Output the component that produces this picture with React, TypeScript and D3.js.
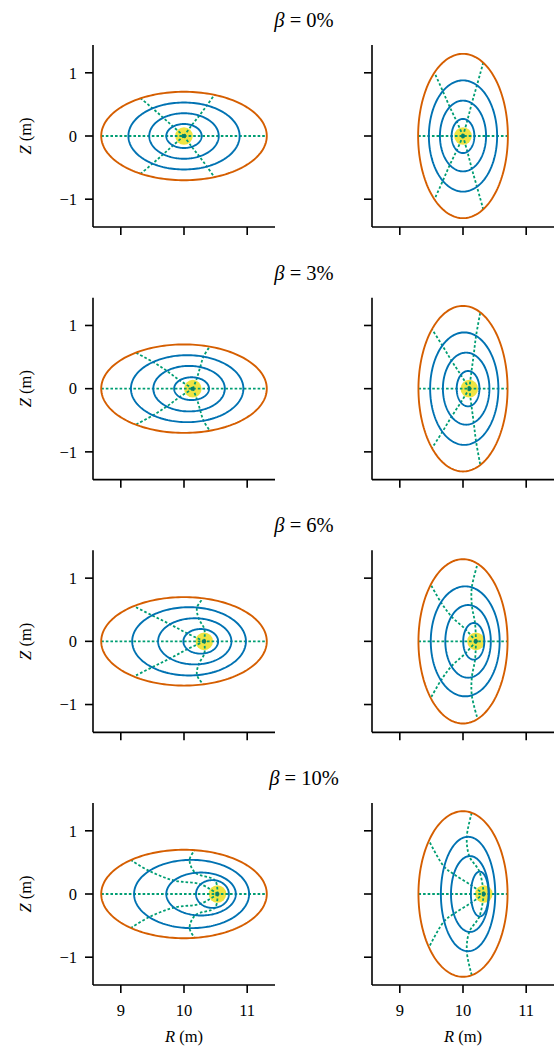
import React from 'react';
import * as d3 from 'd3';

const betaPercent = [0, 3, 6, 10];
const rTicks = [9, 10, 11];
const zTicks = [-1, 0, 1];
const rDomain = [8.56, 11.44];
const zDomain = [-1.44, 1.44];

// flux surfaces per beta, inner -> boundary: [Rc, half-width, half-height]
const surfacesWide = [
  [[10.0, 0.28, 0.19], [10.0, 0.55, 0.36], [10.0, 0.88, 0.53], [10.0, 1.31, 0.70]],
  [[10.12, 0.276, 0.18], [10.08, 0.566, 0.36], [10.05, 0.89, 0.53], [10.0, 1.31, 0.70]],
  [[10.265, 0.275, 0.195], [10.17, 0.58, 0.365], [10.08, 0.90, 0.54], [10.0, 1.31, 0.70]],
  [[10.45, 0.26, 0.22], [10.27, 0.55, 0.34], [10.12, 0.91, 0.54], [10.0, 1.31, 0.70]],
];
const surfacesTall = [
  [[10.0, 0.18, 0.27], [10.0, 0.365, 0.56], [10.0, 0.54, 0.88], [10.0, 0.71, 1.30]],
  [[10.08, 0.18, 0.28], [10.05, 0.368, 0.57], [10.02, 0.54, 0.89], [10.0, 0.705, 1.31]],
  [[10.17, 0.167, 0.29], [10.08, 0.36, 0.575], [10.035, 0.545, 0.87], [10.0, 0.705, 1.30]],
  [[10.265, 0.14, 0.355], [10.11, 0.30, 0.60], [10.08, 0.43, 0.905], [10.0, 0.705, 1.31]],
];

// magnetic axis R
const axisWide = [10.0, 10.14, 10.32, 10.53];
const axisTall = [10.0, 10.1, 10.205, 10.33];

// upper dotted angle lines: crossing points [R, Z] on s1, s2, s3, boundary
const linesWide = [
  { ul: [[9.82, 0.155], [9.67, 0.29], [9.5, 0.44], [9.31, 0.6]], ur: [[10.13, 0.18], [10.24, 0.32], [10.36, 0.48], [10.48, 0.65]] },
  { ul: [[9.92, 0.14], [9.73, 0.28], [9.5, 0.43], [9.25, 0.56]], ur: [[10.19, 0.14], [10.24, 0.31], [10.29, 0.47], [10.38, 0.62]] },
  { ul: [[10.06, 0.12], [9.78, 0.27], [9.51, 0.4], [9.23, 0.54]], ur: [[10.32, 0.18], [10.23, 0.35], [10.2, 0.51], [10.3, 0.67]] },
  { ul: [[10.28, 0.14], [9.81, 0.23], [9.44, 0.37], [9.17, 0.53]], ur: [[10.49, 0.21], [10.17, 0.37], [10.09, 0.51], [10.16, 0.65]] },
];
const linesTall = [
  { ul: [[9.9, 0.23], [9.79, 0.46], [9.68, 0.71], [9.55, 1.0]], ur: [[10.07, 0.25], [10.14, 0.52], [10.22, 0.8], [10.32, 1.16]] },
  { ul: [[9.97, 0.21], [9.82, 0.44], [9.68, 0.67], [9.52, 0.92]], ur: [[10.13, 0.25], [10.17, 0.54], [10.21, 0.85], [10.27, 1.19]] },
  { ul: [[10.02, 0.22], [9.8, 0.42], [9.65, 0.62], [9.505, 0.87]], ur: [[10.19, 0.28], [10.14, 0.56], [10.14, 0.86], [10.23, 1.22]] },
  { ul: [[10.15, 0.12], [9.89, 0.27], [9.65, 0.49], [9.47, 0.83]], ur: [[10.26, 0.35], [10.1, 0.59], [10.06, 0.9], [10.14, 1.3]] },
];

const W = 554;
const H = 1050;
const SIZE = 182;
const colX = [93, 372];
const rowTop = 45;
const rowStep = 252.67;

const BLUE = '#0072B2';
const ORANGE = '#D55E00';
const GREEN = '#009E73';
const YELLOW = '#F0E442';
const FONT = "'Liberation Serif', 'DejaVu Serif', serif";

type Surf = number[];

function snap(p: number[], s: Surf) {
  const t = Math.atan2(p[1] / s[2], (p[0] - s[0]) / s[1]);
  return [s[0] + s[1] * Math.cos(t), s[2] * Math.sin(t)];
}

function Panel({ left, top, surfaces, axisR, lines, xLabels, yLabels }: any) {
  const x = d3.scaleLinear().domain(rDomain).range([0, SIZE]);
  const y = d3.scaleLinear().domain(zDomain).range([SIZE, 0]);
  const thetas = d3.range(0, 360, 2).map((d) => (d * Math.PI) / 180);

  const ring = d3.line<number>().curve(d3.curveLinearClosed);
  const ellipse = (s: Surf) =>
    ring.x((t) => x(s[0] + s[1] * Math.cos(t))).y((t) => y(s[2] * Math.sin(t)))(thetas) || '';

  const curve = d3
    .line<number[]>()
    .x((d) => x(d[0]))
    .y((d) => y(d[1]))
    .curve(d3.curveCatmullRom.alpha(0.5));

  const bnd = surfaces[surfaces.length - 1];
  const angleLines: number[][][] = [];
  [lines.ul, lines.ur].forEach((pts: number[][]) => {
    const snapped = pts.map((p, i) => snap(p, surfaces[i]));
    angleLines.push([[axisR, 0], ...snapped]);
    angleLines.push([[axisR, 0], ...snapped.map((p) => [p[0], -p[1]])]);
  });

  return (
    <g transform={`translate(${left},${top})`}>
      <circle cx={x(axisR)} cy={y(0)} r={8.8} fill={YELLOW} />
      <g fill="none" stroke={GREEN} strokeWidth={1.8} strokeDasharray="2.6,2">
        <line x1={x(bnd[0] - bnd[1])} x2={x(bnd[0] + bnd[1])} y1={y(0)} y2={y(0)} />
        {angleLines.map((l, i) => (
          <path key={i} d={curve(l) || ''} />
        ))}
      </g>
      <circle cx={x(axisR)} cy={y(0)} r={2} fill="#0b7c68" />
      {surfaces.map((s: Surf, i: number) => (
        <path
          key={i}
          d={ellipse(s)}
          fill="none"
          stroke={i === surfaces.length - 1 ? ORANGE : BLUE}
          strokeWidth={1.9}
        />
      ))}
      <g stroke="#000" strokeWidth={1.6}>
        <line x1={0} x2={0} y1={0} y2={SIZE} />
        <line x1={0} x2={SIZE} y1={SIZE} y2={SIZE} />
        {zTicks.map((t) => (
          <line key={'z' + t} x1={-8} x2={0} y1={y(t)} y2={y(t)} />
        ))}
        {rTicks.map((t) => (
          <line key={'r' + t} x1={x(t)} x2={x(t)} y1={SIZE} y2={SIZE + 8} />
        ))}
      </g>
      {yLabels &&
        zTicks.map((t) => (
          <text key={'zl' + t} x={-16} y={y(t)} dy="0.35em" textAnchor="end" fontSize={16.5} fontFamily={FONT}>
            {t < 0 ? '\u2212' + Math.abs(t) : t}
          </text>
        ))}
      {xLabels &&
        rTicks.map((t) => (
          <text key={'rl' + t} x={x(t)} y={SIZE + 31} textAnchor="middle" fontSize={16.5} fontFamily={FONT}>
            {t}
          </text>
        ))}
      {yLabels && (
        <text
          transform={`translate(${-62},${SIZE / 2}) rotate(-90)`}
          textAnchor="middle"
          fontSize={16.5}
          fontFamily={FONT}
        >
          <tspan fontStyle="italic">Z</tspan> (m)
        </text>
      )}
      {xLabels && (
        <text x={SIZE / 2} y={SIZE + 57} textAnchor="middle" fontSize={16.5} fontFamily={FONT}>
          <tspan fontStyle="italic">R</tspan> (m)
        </text>
      )}
    </g>
  );
}

export default function App() {
  return (
    <svg
      width={W}
      height={H}
      style={{ position: 'absolute', left: 0, top: 0, background: '#fff' }}
    >
      {betaPercent.map((b, i) => {
        const top = rowTop + i * rowStep;
        const last = i === betaPercent.length - 1;
        return (
          <g key={b}>
            <text x={304} y={top - 18} textAnchor="middle" fontSize={20.5} fontFamily={FONT}>
              <tspan fontStyle="italic">β</tspan> = {b}%
            </text>
            <Panel
              left={colX[0]}
              top={top}
              surfaces={surfacesWide[i]}
              axisR={axisWide[i]}
              lines={linesWide[i]}
              xLabels={last}
              yLabels={true}
            />
            <Panel
              left={colX[1]}
              top={top}
              surfaces={surfacesTall[i]}
              axisR={axisTall[i]}
              lines={linesTall[i]}
              xLabels={last}
              yLabels={false}
            />
          </g>
        );
      })}
    </svg>
  );
}
